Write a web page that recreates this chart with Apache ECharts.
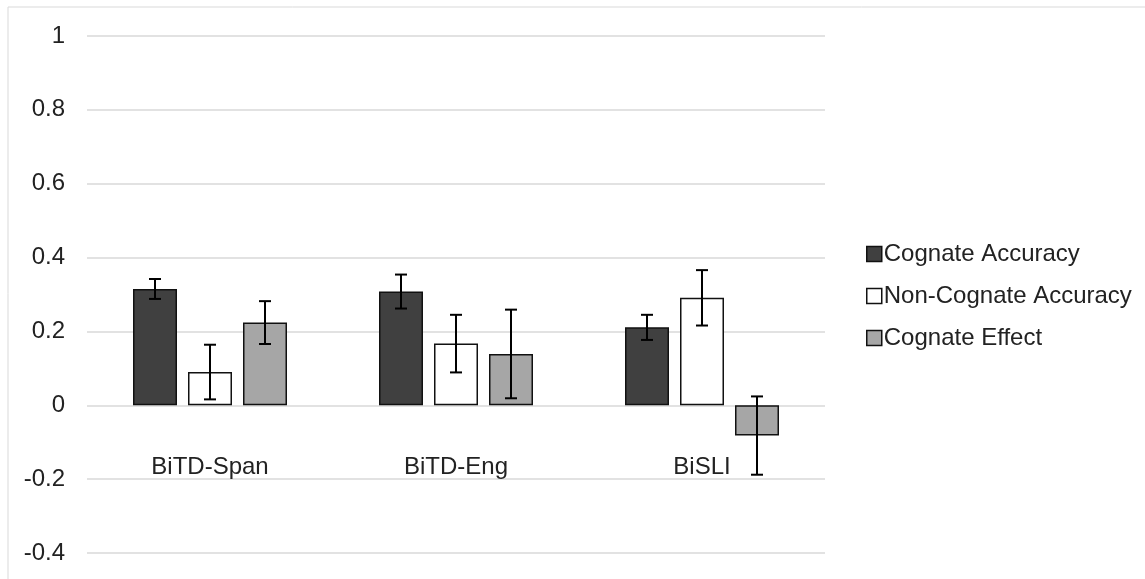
<!DOCTYPE html>
<html>
<head>
<meta charset="utf-8">
<script src="https://cdn.jsdelivr.net/npm/echarts@6/dist/echarts.min.js"></script>
<style>
html,body{margin:0;padding:0;background:#fff;}
#c{width:1145px;height:579px;}
</style>
</head>
<body>
<div id="c"></div>
<script>
const categories = ['BiTD-Span', 'BiTD-Eng', 'BiSLI'];
const seriesNames = ['Cognate Accuracy', 'Non-Cognate Accuracy', 'Cognate Effect'];
const cognateAccuracy = [0.315, 0.308, 0.211];
const cognateAccuracyErr = [0.027, 0.046, 0.034];
const nonCognateAccuracy = [0.090, 0.167, 0.291];
const nonCognateAccuracyErr = [0.074, 0.078, 0.075];
const cognateEffect = [0.224, 0.139, -0.082];
const cognateEffectErr = [0.058, 0.120, 0.106];
const yTicks = [-0.4, -0.2, 0, 0.2, 0.4, 0.6, 0.8, 1];

const values = [cognateAccuracy, nonCognateAccuracy, cognateEffect];
const errors = [cognateAccuracyErr, nonCognateAccuracyErr, cognateEffectErr];
const fills = ['#404040', '#ffffff', '#a6a6a6'];
const FONT = 'Liberation Sans, Arial, sans-serif';
const BAR_W = 44, BAR_GAP = 11;

const chart = echarts.init(document.getElementById('c'), null, {renderer: 'canvas'});

const series = [];
values.forEach((vals, i) => {
  series.push({
    name: seriesNames[i],
    type: 'bar',
    data: vals,
    barWidth: BAR_W,
    barGap: (BAR_GAP / BAR_W * 100) + '%',
    itemStyle: {color: fills[i], borderColor: '#111', borderWidth: 1.5},
    emphasis: {disabled: true},
    z: 2
  });
});
values.forEach((vals, i) => {
  series.push({
    type: 'custom',
    name: seriesNames[i] + ' error',
    data: vals.map((v, k) => [k, v - errors[i][k], v + errors[i][k]]),
    renderItem: function (params, api) {
      const k = api.value(0);
      const lo = api.coord([k, api.value(1)]);
      const hi = api.coord([k, api.value(2)]);
      const x = lo[0] + (i - 1) * (BAR_W + BAR_GAP);
      const cap = 6;
      const st = {stroke: '#000', lineWidth: 2};
      return {
        type: 'group',
        children: [
          {type: 'line', shape: {x1: x, y1: lo[1], x2: x, y2: hi[1]}, style: st},
          {type: 'line', shape: {x1: x - cap, y1: lo[1], x2: x + cap, y2: lo[1]}, style: st},
          {type: 'line', shape: {x1: x - cap, y1: hi[1], x2: x + cap, y2: hi[1]}, style: st}
        ]
      };
    },
    encode: {x: 0, y: [1, 2]},
    z: 5,
    silent: true
  });
});

// the category axis sits at value 0: offset it up from the grid bottom
const GRID_TOP = 36, GRID_BOTTOM = 26, PLOT_H = 579 - GRID_TOP - GRID_BOTTOM;
const zeroOffset = -PLOT_H * (0 - yTicks[0]) / (yTicks[yTicks.length - 1] - yTicks[0]);

chart.setOption({
  animation: false,
  backgroundColor: '#fff',
  graphic: [{
    type: 'rect',
    shape: {x: 8, y: 7, width: 1200, height: 640},
    style: {fill: 'none', stroke: '#d9d9d9', lineWidth: 1},
    silent: true
  }],
  grid: {left: 87, right: 320, top: GRID_TOP, bottom: GRID_BOTTOM, containLabel: false, outerBoundsMode: 'none'},
  legend: {
    data: seriesNames,
    orient: 'vertical',
    left: 861,
    top: 237,
    icon: 'rect',
    itemWidth: 15,
    itemHeight: 15,
    itemGap: 18,
    itemStyle: {borderColor: '#111', borderWidth: 1.5},
    textStyle: {fontFamily: FONT, fontSize: 24, color: '#222', padding: [0, 0, 0, -3]},
    selectedMode: false
  },
  xAxis: {
    type: 'category',
    data: categories,
    offset: zeroOffset,
    axisLine: {show: false, onZero: false},
    axisTick: {show: false},
    axisLabel: {fontFamily: FONT, fontSize: 24, color: '#222', margin: 50},
    splitLine: {show: false}
  },
  yAxis: {
    type: 'value',
    min: yTicks[0],
    max: yTicks[yTicks.length - 1],
    interval: 0.2,
    axisLine: {show: false},
    axisTick: {show: false},
    axisLabel: {fontFamily: FONT, fontSize: 24, color: '#222', margin: 22,
      formatter: v => String(Math.round(v * 10) / 10)},
    splitLine: {lineStyle: {color: '#d9d9d9', width: 1.5}}
  },
  series: series
});
</script>
</body>
</html>
